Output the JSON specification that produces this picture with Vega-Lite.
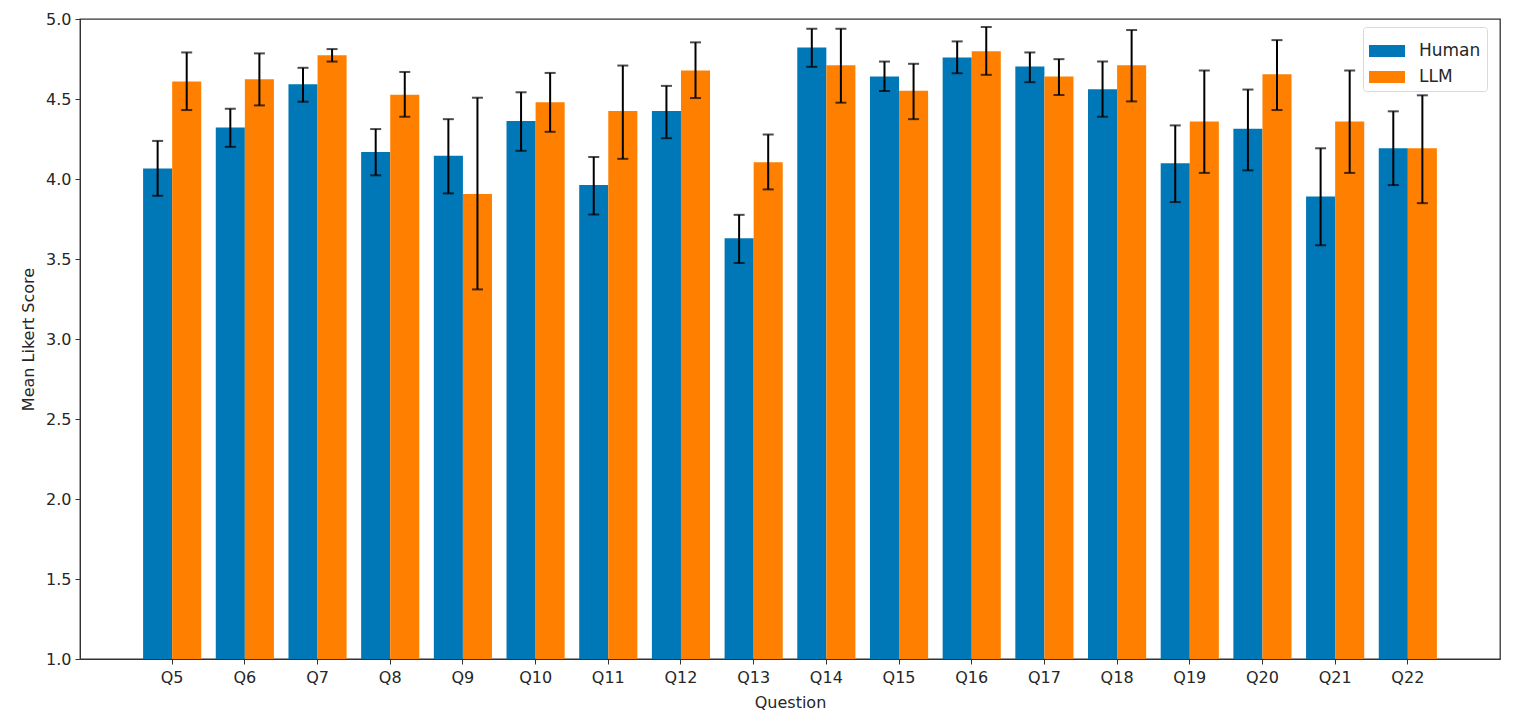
{
  "$schema": "https://vega.github.io/schema/vega-lite/v6.json",
  "width": 1420,
  "height": 640,
  "autosize": {"type": "none"},
  "padding": {"left": 80, "top": 19, "right": 15, "bottom": 63},
  "background": "white",
  "config": {
    "font": "DejaVu Sans",
    "view": {"stroke": "#333333", "strokeWidth": 1.3},
    "axis": {
      "labelFont": "DejaVu Sans",
      "titleFont": "DejaVu Sans",
      "labelFontSize": 16,
      "titleFontSize": 16,
      "labelColor": "#262626",
      "titleColor": "#262626",
      "titleFontWeight": "normal",
      "domainColor": "#333333",
      "tickColor": "#333333",
      "tickSize": 5,
      "grid": false
    }
  },
  "data": {
    "values": [
      {"Question": "Q5", "Group": "Human", "mean": 4.065, "lo": 3.895, "hi": 4.238},
      {"Question": "Q5", "Group": "LLM", "mean": 4.609, "lo": 4.431, "hi": 4.791},
      {"Question": "Q6", "Group": "Human", "mean": 4.322, "lo": 4.201, "hi": 4.439},
      {"Question": "Q6", "Group": "LLM", "mean": 4.623, "lo": 4.46, "hi": 4.785},
      {"Question": "Q7", "Group": "Human", "mean": 4.592, "lo": 4.483, "hi": 4.695},
      {"Question": "Q7", "Group": "LLM", "mean": 4.774, "lo": 4.734, "hi": 4.812},
      {"Question": "Q8", "Group": "Human", "mean": 4.169, "lo": 4.023, "hi": 4.312},
      {"Question": "Q8", "Group": "LLM", "mean": 4.527, "lo": 4.389, "hi": 4.669},
      {"Question": "Q9", "Group": "Human", "mean": 4.146, "lo": 3.91, "hi": 4.374},
      {"Question": "Q9", "Group": "LLM", "mean": 3.906, "lo": 3.31, "hi": 4.508},
      {"Question": "Q10", "Group": "Human", "mean": 4.362, "lo": 4.176, "hi": 4.542},
      {"Question": "Q10", "Group": "LLM", "mean": 4.479, "lo": 4.295, "hi": 4.663},
      {"Question": "Q11", "Group": "Human", "mean": 3.962, "lo": 3.778, "hi": 4.138},
      {"Question": "Q11", "Group": "LLM", "mean": 4.425, "lo": 4.126, "hi": 4.709},
      {"Question": "Q12", "Group": "Human", "mean": 4.425, "lo": 4.255, "hi": 4.582},
      {"Question": "Q12", "Group": "LLM", "mean": 4.678, "lo": 4.506, "hi": 4.854},
      {"Question": "Q13", "Group": "Human", "mean": 3.63, "lo": 3.475, "hi": 3.776},
      {"Question": "Q13", "Group": "LLM", "mean": 4.105, "lo": 3.935, "hi": 4.278},
      {"Question": "Q14", "Group": "Human", "mean": 4.822, "lo": 4.701, "hi": 4.939},
      {"Question": "Q14", "Group": "LLM", "mean": 4.711, "lo": 4.477, "hi": 4.939},
      {"Question": "Q15", "Group": "Human", "mean": 4.64, "lo": 4.55, "hi": 4.734},
      {"Question": "Q15", "Group": "LLM", "mean": 4.552, "lo": 4.374, "hi": 4.72},
      {"Question": "Q16", "Group": "Human", "mean": 4.759, "lo": 4.661, "hi": 4.86},
      {"Question": "Q16", "Group": "LLM", "mean": 4.799, "lo": 4.651, "hi": 4.95},
      {"Question": "Q17", "Group": "Human", "mean": 4.703, "lo": 4.605, "hi": 4.791},
      {"Question": "Q17", "Group": "LLM", "mean": 4.64, "lo": 4.525, "hi": 4.749},
      {"Question": "Q18", "Group": "Human", "mean": 4.561, "lo": 4.389, "hi": 4.734},
      {"Question": "Q18", "Group": "LLM", "mean": 4.711, "lo": 4.485, "hi": 4.931},
      {"Question": "Q19", "Group": "Human", "mean": 4.098, "lo": 3.856, "hi": 4.335},
      {"Question": "Q19", "Group": "LLM", "mean": 4.36, "lo": 4.038, "hi": 4.678},
      {"Question": "Q20", "Group": "Human", "mean": 4.314, "lo": 4.054, "hi": 4.559},
      {"Question": "Q20", "Group": "LLM", "mean": 4.655, "lo": 4.431, "hi": 4.868},
      {"Question": "Q21", "Group": "Human", "mean": 3.891, "lo": 3.586, "hi": 4.192},
      {"Question": "Q21", "Group": "LLM", "mean": 4.36, "lo": 4.038, "hi": 4.678},
      {"Question": "Q22", "Group": "Human", "mean": 4.192, "lo": 3.962, "hi": 4.423},
      {"Question": "Q22", "Group": "LLM", "mean": 4.192, "lo": 3.849, "hi": 4.523}
    ]
  },
  "encoding": {
    "x": {
      "field": "Question",
      "type": "nominal",
      "sort": null,
      "scale": {"paddingInner": 0.2, "paddingOuter": 0.868},
      "axis": {"labelAngle": 0, "labelPadding": 5, "titlePadding": 9, "title": "Question"}
    },
    "xOffset": {
      "field": "Group",
      "type": "nominal",
      "scale": {"paddingInner": 0, "paddingOuter": 0}
    }
  },
  "layer": [
    {
      "mark": {"type": "bar"},
      "encoding": {
        "y": {
          "field": "mean",
          "type": "quantitative",
          "scale": {"domain": [1, 5], "zero": false, "nice": false},
          "axis": {"title": "Mean Likert Score", "values": [1, 1.5, 2, 2.5, 3, 3.5, 4, 4.5, 5], "format": ".1f", "labelPadding": 4, "titlePadding": 9}
        },
        "y2": {"datum": 1},
        "color": {
          "field": "Group",
          "type": "nominal",
          "scale": {"domain": ["Human", "LLM"], "range": ["#0077B6", "#FF8000"]},
          "legend": {
            "title": null,
            "orient": "none",
            "legendX": 1283,
            "legendY": 8,
            "padding": 6,
            "strokeColor": "#d9d9d9",
            "fillColor": "white",
            "cornerRadius": 3,
            "symbolType": "M-1,-0.33H1V0.33H-1Z",
            "symbolSize": 1296,
            "symbolStrokeWidth": 0,
            "symbolOpacity": 1,
            "labelFont": "DejaVu Sans",
            "labelFontSize": 17,
            "labelColor": "#262626",
            "labelOffset": 14,
            "rowPadding": -11
          }
        }
      }
    },
    {
      "mark": {"type": "rule", "color": "black", "strokeWidth": 2},
      "encoding": {
        "y": {"field": "lo", "type": "quantitative"},
        "y2": {"field": "hi"}
      }
    },
    {
      "mark": {"type": "tick", "color": "black", "thickness": 2, "size": 11},
      "encoding": {"y": {"field": "lo", "type": "quantitative"}}
    },
    {
      "mark": {"type": "tick", "color": "black", "thickness": 2, "size": 11},
      "encoding": {"y": {"field": "hi", "type": "quantitative"}}
    }
  ]
}
